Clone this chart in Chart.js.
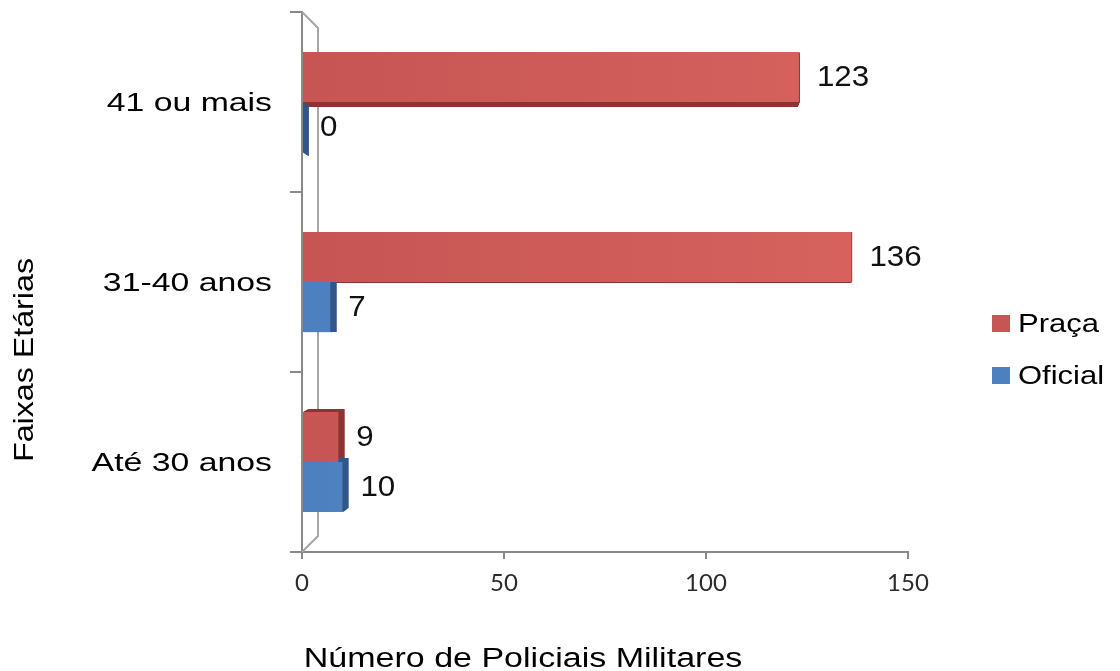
<!DOCTYPE html>
<html lang="pt">
<head>
<meta charset="utf-8">
<title>Faixas Etárias</title>
<script src="https://cdn.jsdelivr.net/npm/chart.js@4.4.1/dist/chart.umd.min.js"></script>
<style>
  html, body { margin: 0; padding: 0; background: #fff; }
  #wrap { width: 1120px; height: 671px; }
</style>
</head>
<body>
<div id="wrap"><canvas id="chart" width="1120" height="671"></canvas></div>
<script>
// Age bands, listed top to bottom
const faixas = ['41 ou mais', '31-40 anos', 'Até 30 anos'];
const praca = [123, 136, 9];
const oficial = [0, 7, 10];
const xTicks = [0, 50, 100, 150];

const seriesNames = ['Praça', 'Oficial'];
const frontColors = [['#c65553', '#d8635f'], ['#4d80bf', '#5b8ecc']];
const sideColors = ['#8a3533', '#30568a'];

const FONT = '"Liberation Sans", Arial, sans-serif';

// text with a horizontal stretch (sx) and optional rotation
function stretchText(ctx, text, x, y, o) {
  ctx.save();
  ctx.translate(x, y);
  if (o.rotate) ctx.rotate(o.rotate);
  ctx.scale(o.sx || 1, 1);
  ctx.font = o.font;
  ctx.fillStyle = o.color || '#000';
  ctx.textAlign = o.align || 'left';
  ctx.textBaseline = o.baseline || 'alphabetic';
  ctx.fillText(text, 0, 0);
  ctx.restore();
}

function gradientFor(idx) {
  return (c) => {
    const area = c.chart.chartArea;
    if (!area) return frontColors[idx][0];
    const g = c.chart.ctx.createLinearGradient(area.left, 0, area.right, 0);
    g.addColorStop(0, frontColors[idx][0]);
    g.addColorStop(1, frontColors[idx][1]);
    return g;
  };
}

// back wall edges and the depth of each bar, drawn behind the front faces
const depthPlugin = {
  id: 'depth',
  beforeDatasetsDraw(chart) {
    const { ctx, chartArea: a } = chart;
    ctx.save();
    ctx.strokeStyle = '#a6a6a6';
    ctx.lineWidth = 2;
    ctx.beginPath();
    ctx.moveTo(a.left, a.top);
    ctx.lineTo(a.left + 16, a.top + 16);
    ctx.lineTo(a.left + 16, a.bottom - 16);
    ctx.lineTo(a.left, a.bottom);
    ctx.stroke();

    ctx.beginPath();
    ctx.rect(a.left + 1, 0, chart.width, chart.height);
    ctx.clip();
    chart.data.datasets.forEach((ds, di) => {
      const meta = chart.getDatasetMeta(di);
      ctx.fillStyle = sideColors[di];
      meta.data.forEach((bar) => {
        const x0 = Math.min(bar.base, bar.x), x1 = Math.max(bar.base, bar.x);
        const y0 = bar.y - bar.height / 2;
        const dx = Math.max(-3, Math.min(6, (668 - x1) * 0.016));
        const dy = (304 - bar.y) * 0.022;
        const steps = 12;
        for (let i = 1; i <= steps; i++) {
          ctx.fillRect(x0 + dx * i / steps, y0 + dy * i / steps, x1 - x0 + 1, bar.height);
        }
      });
    });
    ctx.restore();
  },
  afterDraw(chart) {
    const { ctx, chartArea: a } = chart;
    const yScale = chart.scales.y;

    // category labels
    faixas.forEach((label, i) => {
      stretchText(ctx, label, a.left - 30, yScale.getPixelForValue(i) + 2, {
        font: '26px ' + FONT, sx: 1.3, align: 'right', baseline: 'middle'
      });
    });

    // value labels at the end of each bar
    chart.data.datasets.forEach((ds, di) => {
      chart.getDatasetMeta(di).data.forEach((bar, i) => {
        stretchText(ctx, String(ds.data[i]), bar.x + 18, bar.y + 1, {
          font: '29px ' + FONT, sx: 1.08, baseline: 'middle', color: '#111'
        });
      });
    });

    // legend
    seriesNames.forEach((name, i) => {
      const cy = 323 + i * 52;
      ctx.fillStyle = frontColors[i][0];
      ctx.fillRect(992, cy - 8, 18, 17);
      stretchText(ctx, name, 1018, cy + 9, { font: '25px ' + FONT, sx: 1.24 });
    });

    // axis titles
    stretchText(ctx, 'Número de Policiais Militares', 523, 667, {
      font: '27px ' + FONT, sx: 1.26, align: 'center'
    });
    stretchText(ctx, 'Faixas Etárias', 33, 360, {
      font: '28px ' + FONT, sx: 1.15, align: 'center', rotate: -Math.PI / 2
    });
  }
};

new Chart(document.getElementById('chart'), {
  type: 'bar',
  data: {
    labels: faixas,
    datasets: [
      { label: seriesNames[0], data: praca, backgroundColor: gradientFor(0) },
      { label: seriesNames[1], data: oficial, backgroundColor: gradientFor(1) }
    ]
  },
  options: {
    indexAxis: 'y',
    responsive: false,
    animation: false,
    devicePixelRatio: 1,
    layout: { padding: { top: 12, right: 212, bottom: 0, left: 0 } },
    datasets: {
      bar: { categoryPercentage: 0.556, barPercentage: 1.0, borderWidth: 0 }
    },
    plugins: {
      legend: { display: false },
      tooltip: { enabled: false }
    },
    scales: {
      x: {
        min: 0,
        max: 150,
        afterBuildTicks: (s) => { s.ticks = xTicks.map(v => ({ value: v })); },
        afterFit: (s) => { s.height = 119; },
        border: { color: '#898989', width: 2 },
        grid: { drawOnChartArea: false, drawTicks: true, tickLength: 7, tickColor: '#898989', lineWidth: 2 },
        ticks: { padding: 10, color: '#2b2b2b', font: { family: 'Lato', size: 24 } }
      },
      y: {
        offset: true,
        afterFit: (s) => { s.width = 302; },
        border: { color: '#898989', width: 2 },
        grid: { offset: true, drawOnChartArea: false, drawTicks: true, tickLength: 12, tickColor: '#898989', lineWidth: 2 },
        ticks: { display: false }
      }
    }
  },
  plugins: [depthPlugin]
});
</script>
</body>
</html>
